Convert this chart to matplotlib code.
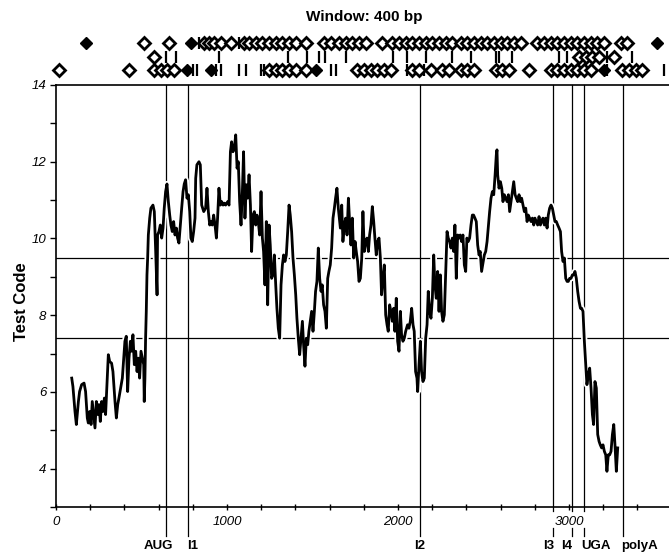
import numpy as np
import matplotlib
matplotlib.use("Agg")
import matplotlib.pyplot as plt
import matplotlib.patheffects as pe

plt.rcParams['font.family'] = ['Liberation Sans', 'DejaVu Sans']

# test code curve (window 400 bp)
pos = [92, 99, 111, 119, 131, 138, 150, 164, 173, 183, 189, 197, 205, 212, 220, 228, 236, 244, 251, 259,
       267, 275, 283, 290, 300, 306, 314, 325, 333, 345, 353, 361, 368, 378, 388, 396, 403, 411, 419, 427,
       435, 442, 450, 458, 466, 474, 481, 489, 497, 505, 513, 516, 520, 524, 528, 532, 536, 540, 548, 555,
       567, 575, 583, 587, 591, 594, 602, 610, 618, 626, 633, 641, 649, 657, 665, 672, 680, 688, 696, 704,
       711, 719, 727, 735, 743, 750, 758, 766, 774, 782, 789, 797, 805, 813, 817, 824, 836,
       844, 852, 864, 875, 883, 891, 899, 907, 914, 922, 930, 938, 945, 953, 961, 969, 977, 984, 992,
       1004, 1012, 1020, 1027, 1035, 1043, 1051, 1059, 1066, 1074, 1082, 1090, 1097, 1105, 1113, 1121, 1129,
       1137, 1144, 1152, 1160, 1168, 1175, 1183, 1191, 1199, 1207, 1214, 1222, 1230, 1238, 1246, 1253, 1261,
       1269, 1277, 1285, 1292, 1300, 1308, 1316, 1324, 1331, 1339, 1347, 1355, 1363, 1370, 1378, 1386, 1394,
       1402, 1409, 1417, 1425, 1433, 1441, 1448, 1456, 1464, 1472, 1479, 1487, 1495, 1503, 1511, 1518, 1526,
       1534, 1542, 1550, 1557, 1565, 1573, 1581, 1589, 1596, 1604, 1612, 1620, 1628, 1635, 1643, 1651,
       1655, 1663, 1671, 1678, 1686, 1694, 1702, 1710, 1717, 1725, 1733, 1741, 1749, 1756, 1764, 1772, 1780,
       1788, 1795, 1803, 1811, 1819, 1827, 1834, 1842, 1850, 1858, 1865, 1873, 1881, 1889, 1897, 1904, 1912,
       1920, 1928, 1936, 1943, 1951, 1959, 1967, 1975, 1982, 1990, 1998, 2006, 2014, 2021, 2029, 2037, 2045,
       2056, 2064, 2072, 2080, 2088, 2095, 2103, 2111, 2115, 2123, 2131, 2138, 2146, 2154, 2162, 2170, 2177,
       2185, 2193, 2201, 2209, 2216, 2224, 2232, 2240, 2248, 2255, 2263, 2271, 2279, 2287, 2294, 2302, 2310,
       2318, 2326, 2333, 2341, 2349, 2357, 2364, 2372, 2380, 2388, 2396, 2403, 2411, 2419, 2427, 2435, 2442,
       2450, 2458, 2466, 2474, 2481, 2489,
       2505, 2513, 2521, 2529, 2536, 2544, 2552, 2560, 2568, 2575, 2579, 2583, 2591, 2599, 2607, 2614, 2622,
       2630, 2638, 2646, 2653, 2661, 2669, 2677, 2685, 2692, 2700, 2708, 2716, 2723, 2731, 2739, 2747, 2755,
       2762, 2770, 2778, 2786, 2794, 2801, 2809, 2817, 2825, 2833, 2840, 2848, 2856, 2864, 2872, 2879, 2887,
       2895, 2903, 2911, 2918, 2926, 2934, 2942, 2950, 2957, 2965, 2973, 2981, 2989, 2996, 3004, 3012, 3020,
       3028, 3035, 3043, 3051, 3059, 3067, 3074, 3082, 3090, 3098, 3105, 3113, 3121, 3129, 3137, 3144, 3152,
       3160, 3168, 3176, 3183, 3191, 3199, 3207, 3215, 3222, 3230, 3238, 3246, 3254, 3262, 3269, 3277, 3285]
code = [6.36, 6.14, 5.49, 5.15, 5.75, 6.01, 6.19, 6.23, 6.01, 5.32, 5.19, 5.49, 5.15, 5.75, 5.41, 5.06, 5.75, 5.41, 5.67, 5.23,
        5.75, 5.49, 5.84, 5.41, 6.36, 6.97, 6.79, 6.75, 6.53, 5.75, 5.32, 5.67, 5.84, 6.10, 6.36, 6.88, 7.32, 7.45, 6.01, 6.88,
        7.32, 7.06, 7.49, 6.71, 7.06, 6.53, 6.88, 6.36, 7.06, 6.88, 6.71, 5.75, 6.36, 7.40, 8.10, 9.05, 9.49, 10.09, 10.53, 10.79,
        10.87, 10.70, 9.66, 9.05, 8.53, 10.09, 10.18, 10.35, 10.01, 10.27, 10.79, 11.22, 11.42, 10.96, 10.61, 10.35, 10.18, 10.44, 10.09, 10.27,
        10.01, 9.88, 10.35, 10.79, 11.22, 11.42, 11.53, 11.05, 11.14, 10.70, 10.01, 9.92, 10.18, 10.53, 11.57, 11.92, 12.00,
        11.92, 10.87, 10.70, 10.79, 11.31, 10.70, 10.35, 10.44, 10.35, 10.61, 10.35, 10.01, 10.53, 11.31, 10.87, 10.96, 10.87, 10.92, 10.87,
        10.96, 10.87, 12.26, 12.52, 12.26, 12.35, 12.70, 11.83, 12.00, 10.96, 10.35, 11.22, 12.26, 10.53, 11.40, 11.05, 11.66,
        10.87, 9.66, 10.61, 10.70, 10.35, 10.61, 10.44, 10.09, 11.22, 10.01, 9.66, 8.79, 10.44, 8.27, 10.35, 9.83, 8.96,
        9.05, 9.57, 8.79, 8.18, 7.66, 7.40, 8.79, 9.31, 9.57, 9.40, 9.57, 10.18, 10.87, 10.61, 10.18, 9.49, 9.05,
        8.53, 7.92, 7.40, 6.97, 7.40, 7.84, 7.23, 6.67, 7.40, 7.23, 7.58, 7.84, 8.10, 7.58, 8.10, 8.62, 8.88,
        9.75, 8.96, 8.62, 8.79, 8.27, 8.10, 7.66, 8.96, 9.14, 9.31, 9.75, 10.53, 10.79, 11.05, 11.31, 10.79,
        10.61, 10.27, 10.87, 9.92, 10.35, 10.53, 10.09, 11.05, 10.44, 9.83, 10.53, 9.49, 9.92, 9.66, 9.40, 8.88, 8.96,
        9.49, 10.70, 9.66, 9.92, 10.01, 9.66, 10.09, 10.35, 10.83, 10.44, 10.01, 9.57, 9.92, 10.01, 9.49, 8.53, 8.96,
        9.31, 8.01, 7.75, 7.58, 8.27, 8.10, 7.84, 8.18, 7.58, 8.44, 7.32, 7.06, 8.10, 7.49, 7.32, 7.40, 7.58,
        7.75, 7.66, 7.84, 8.18, 7.75, 7.58, 6.53, 6.36, 6.01, 6.71, 7.32, 6.53, 6.27, 6.36, 7.40, 7.75, 8.62,
        8.10, 7.92, 8.44, 9.57, 8.79, 8.44, 9.14, 8.10, 9.05, 8.10, 7.84, 8.01, 9.14, 10.18, 10.01, 9.92, 9.75,
        10.01, 9.66, 10.35, 8.96, 10.09, 10.01, 10.09, 9.92, 10.09, 9.31, 9.14, 10.01, 9.92, 10.01, 10.35, 10.61, 10.61,
        10.53, 10.44, 9.83, 9.57, 9.66, 9.14,
        9.57, 9.66, 9.92, 10.35, 10.70, 11.05, 11.22, 11.14, 11.66, 12.18, 12.31, 11.66, 11.31, 11.48, 11.31, 10.96, 11.14,
        11.05, 10.96, 11.14, 10.70, 10.96, 11.22, 11.48, 11.14, 11.05, 10.96, 11.14, 10.96, 11.05, 10.87, 10.70, 10.79, 10.44,
        10.61, 10.53, 10.44, 10.53, 10.35, 10.53, 10.44, 10.35, 10.57, 10.35, 10.44, 10.53, 10.35, 10.53, 10.27, 10.61, 10.79,
        10.87, 10.79, 10.61, 10.44, 10.44, 10.35, 10.27, 10.18, 9.66, 9.40, 9.49, 8.96, 8.88, 8.88, 8.96, 8.96, 9.05,
        9.05, 9.14, 8.96, 8.62, 8.36, 8.18, 8.18, 8.10, 7.32, 6.71, 6.19, 6.45, 6.62, 6.10, 5.41, 5.15, 6.27,
        6.10, 4.89, 4.71, 4.62, 4.54, 4.62, 4.45, 4.36, 3.93, 4.36, 4.36, 4.45, 4.89, 5.15, 4.62, 3.93, 4.54]

# thresholds
coding_limit = 9.5
noncoding_limit = 7.4

# features on the sequence
feat_names = ['AUG', 'I1', 'I2', 'I3', 'I4', 'UGA', 'polyA']
feat_pos = [643, 772, 2131, 2906, 3016, 3090, 3316]
label_pos = [600, 800, 2129, 2880, 2988, 3160, 3410]

# marks above the plot, three frames
row1_open = [515, 661, 866, 895, 924, 965, 1023, 1099, 1129, 1170, 1205, 1246, 1287, 1322, 1363, 1404, 1462,
             1567, 1608, 1655, 1696, 1731, 1772, 1813, 1906, 1965, 2006, 2047, 2082, 2123, 2164, 2199, 2240,
             2281, 2316, 2369, 2404, 2445, 2485, 2520, 2561, 2602, 2637, 2678, 2719, 2813, 2854, 2895, 2930,
             2971, 3012, 3047, 3088, 3129, 3164, 3205, 3304, 3339]
row1_fill = [174, 788, 3515]
row1_bar = [836, 1070]
row2_open = [573, 3059, 3099, 3134, 3176, 3263]
row2_bar = [641, 700, 953, 1357, 1468, 1538, 1573, 1696, 1971, 2053, 2164, 2316, 2427, 2573, 2591, 2667,
            2942, 2988, 3222, 3368]
row3_open = [18, 427, 573, 614, 649, 690, 1246, 1287, 1322, 1363, 1404, 1462, 1760, 1801, 1842, 1877, 1918,
             1959, 2082, 2123, 2193, 2257, 2298, 2369, 2404, 2445, 2573, 2608, 2649, 2766, 2895, 2930, 2971,
             3012, 3047, 3088, 3129, 3310, 3351, 3392, 3427]
row3_fill = [766, 906, 1520, 3205]
row3_bar = [801, 825, 936, 965, 1070, 1111, 1199, 1216, 1608, 1637, 2053, 2152, 3222, 3556]

fig = plt.figure(figsize=(6.69, 5.53), dpi=100)
ax = fig.add_axes([56 / 669, 1 - 507 / 553, 1 - 56 / 669, 422 / 553])
ax.set_xlim(0, 3585)
ax.set_ylim(3, 14)

ax.plot(pos, code, color='black', lw=2.0, zorder=3,
        path_effects=[pe.Stroke(linewidth=4.5, foreground='white'), pe.Normal()])
ax.axhline(coding_limit, color='black', lw=0.9, zorder=1)
ax.axhline(noncoding_limit, color='black', lw=0.9, zorder=1)

trans = ax.get_xaxis_transform()
for name, x, lx in zip(feat_names, feat_pos, label_pos):
    if name in ('I3', 'I4', 'UGA'):
        ax.plot([x, x], [-0.01, 1.0], color='black', lw=0.9, transform=trans, clip_on=False, zorder=1)
        ax.plot([x, x], [-0.05, -0.068], color='black', lw=0.9, transform=trans, clip_on=False)
    else:
        ax.plot([x, x], [-0.068, 1.0], color='black', lw=0.9, transform=trans, clip_on=False, zorder=1)
    ax.text(lx, -0.093, name, transform=trans, ha='center', va='center',
            fontsize=9.5, fontweight='bold')

ax.spines['right'].set_visible(False)
for s in ['left', 'top', 'bottom']:
    ax.spines[s].set_linewidth(1.2)

ax.set_xticks([0, 1000, 2000, 3000])
ax.set_xticks(np.arange(0, 3585, 200), minor=True)
ax.set_yticks([4, 6, 8, 10, 12, 14])
ax.set_yticks(np.arange(3, 15, 1), minor=True)
ax.tick_params(axis='x', which='both', direction='inout', length=5, width=1, pad=4, labelsize=9.5)
ax.tick_params(axis='y', which='both', direction='out', length=4, width=1, pad=3, labelsize=9.5)
for lab in ax.get_xticklabels() + ax.get_yticklabels():
    lab.set_fontstyle('italic')

fig.text(22 / 669, 1 - 302 / 553, 'Test Code', rotation=90, ha='center', va='center',
         fontsize=12, fontweight='bold')
fig.text(364 / 669, 1 - 17 / 553, 'Window: 400 bp', ha='center', va='center',
         fontsize=11, fontweight='bold')

# frame marks above the plot
top = fig.add_axes([56 / 669, 1 - 80 / 553, 1 - 56 / 669, 50 / 553], sharex=ax)
top.set_ylim(0, 1)
top.axis('off')
rows = [(0.74, row1_open, row1_fill, row1_bar),
        (0.47, row2_open, [], row2_bar),
        (0.2, row3_open, row3_fill, row3_bar)]
for y, op, fi, ba in rows:
    top.plot(ba, [y] * len(ba), ls='none', marker='|', ms=8, mew=1.6, color='black', clip_on=False)
    top.plot(op, [y] * len(op), ls='none', marker='D', ms=6, mfc='white', mec='black', mew=2.0, clip_on=False)
    if fi:
        top.plot(fi, [y] * len(fi), ls='none', marker='D', ms=6.5, mfc='black', mec='black', clip_on=False)

fig.savefig('out.png', dpi=100)
